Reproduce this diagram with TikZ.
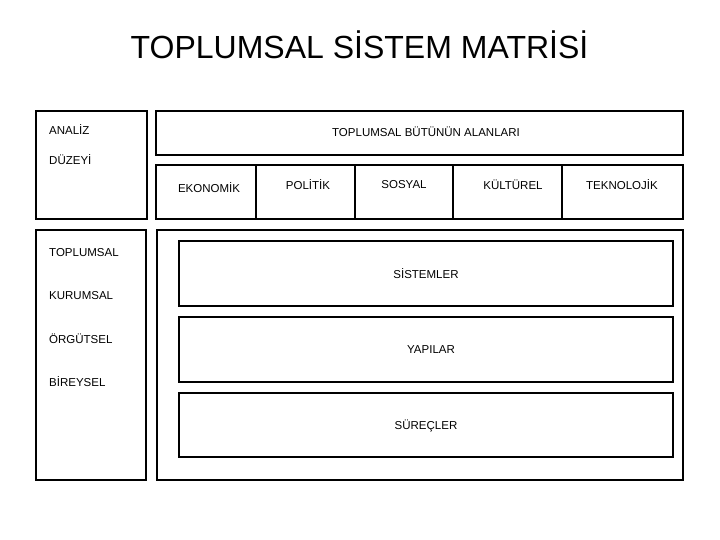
\documentclass[tikz,border=0pt]{standalone}
\usepackage{fontspec}
\setmainfont{Liberation Sans}
\usetikzlibrary{positioning}

\begin{document}
\begin{tikzpicture}[x=1pt, y=-1pt,
    kutu/.style={draw, line width=2.7pt},
    etiket/.style={font=\fontsize{11.5}{13}\selectfont, inner sep=0pt}]
    \useasboundingbox (0,0) rectangle (720,540);

    % başlık
    \node[font=\fontsize{32}{38}\selectfont, inner sep=0pt] (baslik) at (359.5,45) {TOPLUMSAL SİSTEM MATRİSİ};

    % analiz düzeyi
    \draw[kutu] (36,111) rectangle (147,219);
    \node[etiket, anchor=west] (analiz) at (49,130) {ANALİZ};
    \node[etiket, anchor=west] (duzey) at (49,160) {DÜZEYİ};

    % alanlar
    \draw[kutu] (156,111) rectangle (683,155);
    \node[etiket] (alanlar) at (426,132) {TOPLUMSAL BÜTÜNÜN ALANLARI};
    \draw[kutu] (156,165) rectangle (683,219);
    \foreach \x in {256,355,453,562}
        \draw[kutu] (\x,165) -- (\x,219);
    \node[etiket] (ekonomik) at (209,188) {EKONOMİK};
    \node[etiket] (politik) at (308,185) {POLİTİK};
    \node[etiket] (sosyal) at (404,185) {SOSYAL};
    \node[etiket] (kulturel) at (513,185) {KÜLTÜREL};
    \node[etiket] (teknolojik) at (622,185) {TEKNOLOJİK};

    % düzeyler
    \draw[kutu] (36,230) rectangle (146,480);
    \node[etiket, anchor=west] (toplumsal) at (49,253) {TOPLUMSAL};
    \node[etiket, anchor=west] (kurumsal) at (49,296) {KURUMSAL};
    \node[etiket, anchor=west] (orgutsel) at (49,339) {ÖRGÜTSEL};
    \node[etiket, anchor=west] (bireysel) at (49,382) {BİREYSEL};

    % sistemler, yapılar, süreçler
    \draw[kutu] (157,230) rectangle (683,480);
    \draw[kutu] (179,241) rectangle (673,306);
    \node[etiket] (sistemler) at (426,274) {SİSTEMLER};
    \draw[kutu] (179,317) rectangle (673,382);
    \node[etiket] (yapilar) at (431,350) {YAPILAR};
    \draw[kutu] (179,393) rectangle (673,457);
    \node[etiket] (surecler) at (426,426) {SÜREÇLER};
\end{tikzpicture}
\end{document}
